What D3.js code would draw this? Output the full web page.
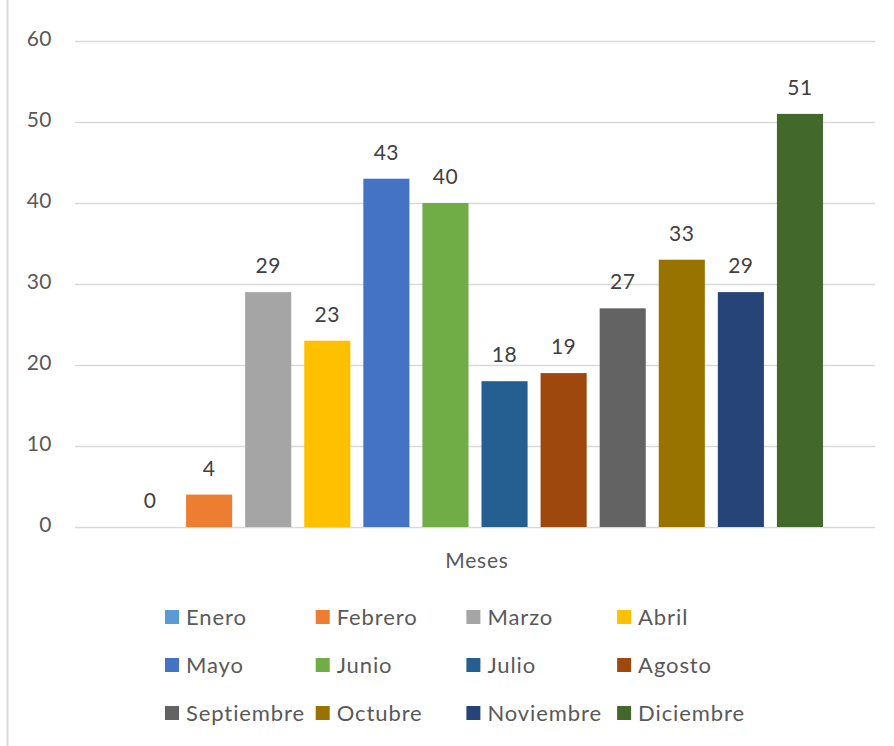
<!DOCTYPE html>
<html><head><meta charset="utf-8">
<script src="https://cdn.jsdelivr.net/npm/d3@7"></script>
<style>body{margin:0;background:#fff;} svg{display:block;}</style>
</head><body>
<svg id="chart" width="894" height="746"></svg>
<script>
const months = ["Enero","Febrero","Marzo","Abril","Mayo","Junio","Julio","Agosto","Septiembre","Octubre","Noviembre","Diciembre"];
const values = [0,4,29,23,43,40,18,19,27,33,29,51];
const colors = ["#5B9BD5","#ED7D31","#A5A5A5","#FFC000","#4472C4","#70AD47","#255E91","#9E480E","#636363","#997300","#264478","#43682B"];
const yTicks = [0,10,20,30,40,50,60];
const axisTitle = "Meses";

const svg = d3.select("#chart");
const font = "Lato, 'Open Sans', sans-serif";
const fs = "21px";
const pLeft = 75, pRight = 875, pTop = 41, pBottom = 527;

// left border
svg.append("line").attr("x1",7.5).attr("x2",7.5).attr("y1",0).attr("y2",746)
  .attr("stroke","#d9d9d9").attr("stroke-width",2);

const x = d3.scaleBand().domain(months).range([pLeft,pRight]).paddingInner(0.22).paddingOuter(0.88);
const y = d3.scaleLinear().domain([0,60]).range([pBottom,pTop]);

const yAxis = d3.axisLeft(y).tickValues(yTicks).tickSize(-(pRight-pLeft)).tickPadding(23);
const g = svg.append("g").attr("transform",`translate(${pLeft},0)`).call(yAxis);
g.select(".domain").remove();
g.selectAll(".tick line").attr("stroke","#d9d9d9").attr("stroke-width",1.5);
g.selectAll(".tick text").attr("fill","#595959").attr("dy","0.2em")
  .style("font-family",font).style("font-size",fs).style("letter-spacing","0.5px");

svg.append("g").selectAll("rect").data(values).join("rect")
  .attr("x",(d,i)=>x(months[i])).attr("width",x.bandwidth())
  .attr("y",d=>y(d)).attr("height",d=>y(0)-y(d))
  .attr("fill",(d,i)=>colors[i]);

svg.append("g").selectAll("text").data(values).join("text")
  .attr("x",(d,i)=>x(months[i])+x.bandwidth()/2)
  .attr("y",d=>y(d)-19)
  .attr("text-anchor","middle").attr("fill","#404040")
  .style("font-family",font).style("font-size",fs).style("letter-spacing","0.5px")
  .text(d=>d);

svg.append("text").attr("x",477).attr("y",568).attr("text-anchor","middle")
  .attr("fill","#595959").style("font-family",font).style("font-size",fs)
  .style("letter-spacing","0.8px").text(axisTitle);

const lg = svg.append("g");
const item = lg.selectAll("g").data(months).join("g")
  .attr("transform",(d,i)=>`translate(${165 + (i%4)*150.7},${617 + Math.floor(i/4)*48})`);
item.append("rect").attr("x",0).attr("y",-7).attr("width",14).attr("height",14).attr("fill",(d,i)=>colors[i]);
item.append("text").attr("x",21).attr("y",8).attr("fill","#595959")
  .style("font-family",font).style("font-size","22px").style("letter-spacing","0.9px").text(d=>d);
</script>
</body></html>
